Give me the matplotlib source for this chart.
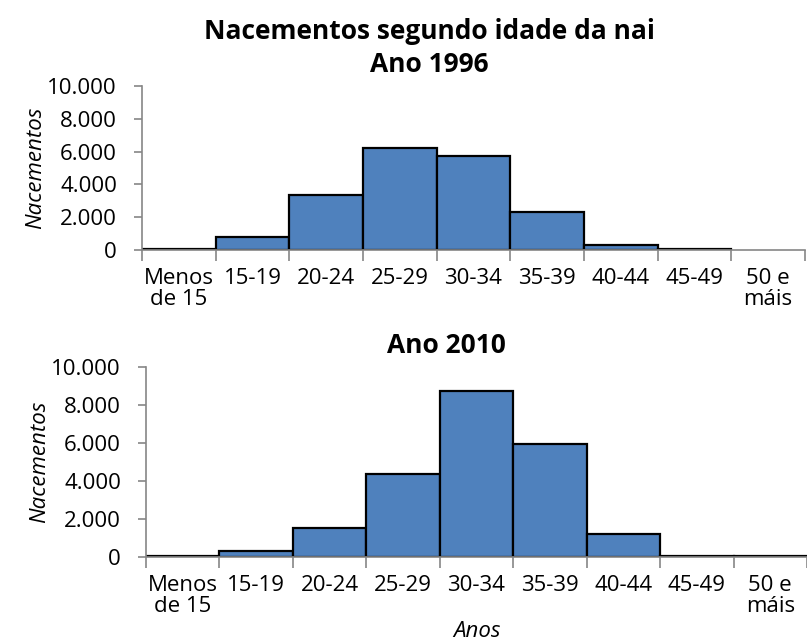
import matplotlib.pyplot as plt
import numpy as np
from matplotlib.ticker import FuncFormatter, FixedLocator

# age groups and births
categorias = ['Menos\nde 15', '15-19', '20-24', '25-29', '30-34', '35-39', '40-44', '45-49', '50 e\nmáis']
nac_1996 = [60, 810, 3330, 6250, 5730, 2290, 330, 90, 0]
nac_2010 = [60, 290, 1530, 4370, 8720, 5960, 1220, 60, 60]

plt.rcParams['font.family'] = ['Open Sans', 'DejaVu Sans']
cor = '#4F81BD'
gris = '#868686'

fig = plt.figure(figsize=(8.07, 6.41), dpi=100)
ax1 = fig.add_axes([142 / 807, 1 - 250 / 641, 663 / 807, 164 / 641])
ax2 = fig.add_axes([146 / 807, 1 - 557 / 641, 661 / 807, 190 / 641])


def miles(v, pos):
    return f'{int(v):,}'.replace(',', '.')


def debuxar(ax, valores, titulo, xt, pad):
    x = np.arange(len(categorias))
    barras = ax.bar(x, valores, width=1.0, color=cor, edgecolor='black', linewidth=1.6)
    for b, v in zip(barras, valores):
        if v == 0:
            b.set_linewidth(0)
    ax.set_xlim(-0.5, len(categorias) - 0.5)
    ax.set_ylim(0, 10000)
    ax.set_yticks(np.arange(0, 10001, 2000))
    ax.yaxis.set_major_formatter(FuncFormatter(miles))
    ax.set_xticks(x)
    ax.set_xticklabels(categorias, fontsize=16)
    ax.xaxis.set_minor_locator(FixedLocator(np.arange(-0.5, len(categorias), 1.0)))
    ax.tick_params(axis='x', which='major', length=0, pad=13)
    ax.tick_params(axis='x', which='minor', length=8, color=gris, width=1.2)
    ax.tick_params(axis='y', length=6, color=gris, width=1.2, labelsize=16, pad=12)
    for lab in ax.get_xticklabels():
        lab.set_linespacing(1.0)
    for s in ['top', 'right']:
        ax.spines[s].set_visible(False)
    for s in ['left', 'bottom']:
        ax.spines[s].set_color(gris)
        ax.spines[s].set_linewidth(1.2)
    ax.set_ylabel('Nacementos', fontsize=16, style='italic', labelpad=1)
    ax.set_title(titulo, fontsize=19, fontweight='bold', pad=pad, linespacing=1.3, x=xt)


debuxar(ax1, nac_1996, 'Nacementos segundo idade da nai\nAno 1996', 0.434, 10)
debuxar(ax2, nac_2010, 'Ano 2010', 0.454, 10)
ax2.set_xlabel('Anos', fontsize=16, style='italic', labelpad=3)

fig.savefig('out.png', dpi=100)
